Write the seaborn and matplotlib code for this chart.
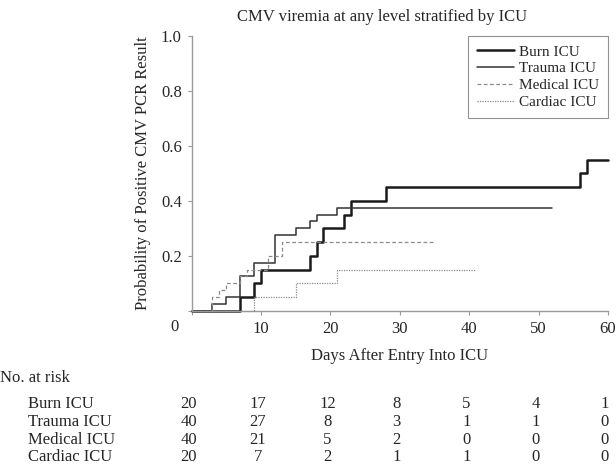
import numpy as np
import pandas as pd
import seaborn as sns
import matplotlib.pyplot as plt

# %% data
burn_days = [0, 7, 9, 10, 17, 18, 19, 22, 23, 28, 56, 57, 60]
burn_prob = [0, 0.05, 0.10, 0.15, 0.20, 0.25, 0.30, 0.35, 0.40, 0.45, 0.50, 0.55, 0.55]

trauma_days = [0, 3, 5, 7, 9, 12, 15, 17, 18, 21, 52]
trauma_prob = [0, 0.025, 0.05, 0.125, 0.175, 0.275, 0.30, 0.325, 0.35, 0.375, 0.375]

medical_days = [0, 3, 4, 5, 7, 8, 11, 13, 35]
medical_prob = [0, 0.05, 0.075, 0.10, 0.125, 0.15, 0.20, 0.25, 0.25]

cardiac_days = [0, 9, 15, 21, 41]
cardiac_prob = [0, 0.05, 0.10, 0.15, 0.15]

# number at risk table
risk_days = [0, 10, 20, 30, 40, 50, 60]
risk_labels = ["Burn ICU", "Trauma ICU", "Medical ICU", "Cardiac ICU"]
burn_risk = [20, 17, 12, 8, 5, 4, 1]
trauma_risk = [40, 27, 8, 3, 1, 1, 0]
medical_risk = [40, 21, 5, 2, 0, 0, 0]
cardiac_risk = [20, 7, 2, 1, 1, 0, 0]

# %% plot
sns.set_style("ticks")
plt.rcParams['font.family'] = ['Liberation Serif', 'DejaVu Serif']

fig = plt.figure(figsize=(6.16, 4.66), dpi=100)
ax = fig.add_axes([0.311, 0.333, 0.676, 0.590])

curves = [
    ("Burn ICU", burn_days, burn_prob, dict(color="#1a1a1a", lw=1.8, ls="-")),
    ("Trauma ICU", trauma_days, trauma_prob, dict(color="#333333", lw=1.1, ls="-")),
    ("Medical ICU", medical_days, medical_prob, dict(color="#8a8a8a", lw=0.9, ls=(0, (3, 2)))),
    ("Cardiac ICU", cardiac_days, cardiac_prob, dict(color="#8a8a8a", lw=0.9, ls=(0, (1, 1)))),
]
for name, days, prob, style in curves:
    df = pd.DataFrame({"Days": days, "Prob": prob})
    sns.lineplot(data=df, x="Days", y="Prob", ax=ax, estimator=None,
                 drawstyle="steps-post", label=name, clip_on=False, **style)

ax.set_xlim(0, 60)
ax.set_ylim(0, 1.0)
ax.set_xticks(range(0, 61, 10))
ax.set_xticklabels([""] + [str(t) for t in range(10, 61, 10)])
ax.set_yticks([0, 0.2, 0.4, 0.6, 0.8, 1.0])
ax.set_yticklabels(["", "0.2", "0.4", "0.6", "0.8", "1.0"])
ax.annotate("0", xy=(0, 0), xycoords="data", xytext=(-17, -16), textcoords="offset pixels",
            ha="center", va="center", fontsize=12)
ax.tick_params(axis="both", length=3, width=0.8, color="#999999", labelsize=12, pad=4)
for side in ["left", "bottom"]:
    ax.spines[side].set_color("#999999")
    ax.spines[side].set_linewidth(1.0)
sns.despine(ax=ax)

ax.set_xlabel("Days After Entry Into ICU", fontsize=12, labelpad=8)
ax.set_ylabel("Probability of Positive CMV PCR Result", fontsize=12, labelpad=7)
fig.text(382 / 616, 1 - 17 / 466, "CMV viremia at any level stratified by ICU",
         ha="center", va="center", fontsize=12)

leg = ax.legend(loc="upper right", bbox_to_anchor=(1.0, 1.0), borderaxespad=0,
                fancybox=False, edgecolor="#777777", fontsize=11, handlelength=2.4,
                handletextpad=0.3, labelspacing=0.2, borderpad=0.6)
leg.get_frame().set_linewidth(0.8)

# number at risk
fig.text(0.0, 1 - 378 / 466, "No. at risk", ha="left", va="center", fontsize=12)
row_y = [404, 422, 440, 457]
for label, counts, yp in zip(risk_labels, [burn_risk, trauma_risk, medical_risk, cardiac_risk], row_y):
    fy = 1 - yp / 466
    fig.text(28 / 616, fy, label, ha="left", va="center", fontsize=12)
    for d, n in zip(risk_days, counts):
        xf = fig.transFigure.inverted().transform(ax.transData.transform((d, 0)))[0]
        fig.text(xf - 3 / 616, fy, str(n), ha="center", va="center", fontsize=12)

fig.savefig("out.png", dpi=100)
